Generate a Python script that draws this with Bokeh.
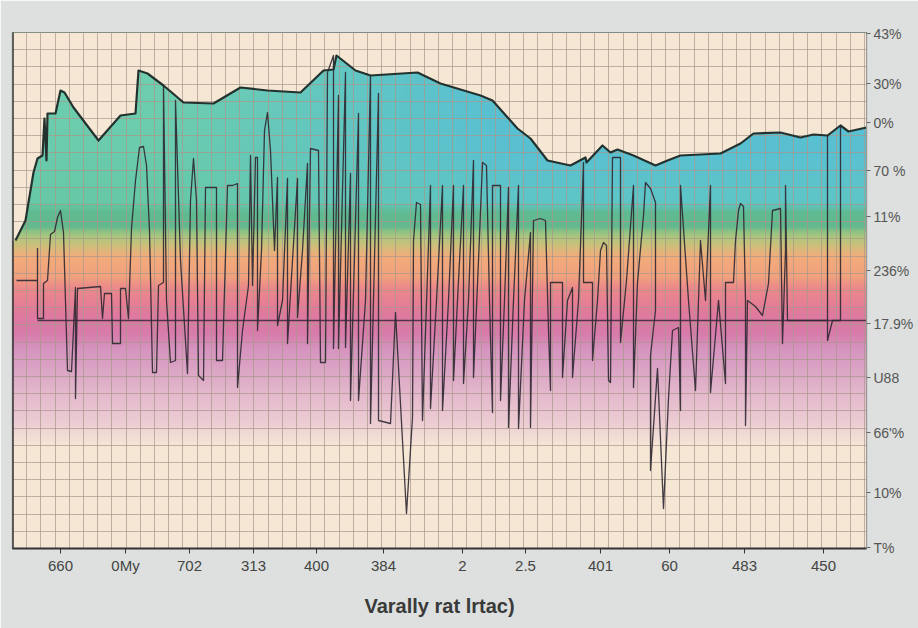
import numpy as np
from bokeh.plotting import figure
from bokeh.models import Range1d, FixedTicker, Span
from bokeh.embed import file_html
from bokeh.resources import INLINE

# ---------------- data ----------------
# upper envelope of the coloured area
env_x = [3, 13, 21, 25, 30, 32, 34, 35, 43, 48, 52, 61, 86, 108, 123, 126, 135, 151, 171, 201,
         228, 255, 288, 311, 321, 324, 343, 358, 405, 428, 468, 480, 505, 518, 535, 558, 573, 574,
         590, 598, 605, 621, 643, 655, 668, 708, 728, 741, 768, 788, 801, 815, 828, 836, 854]
env_y = [308, 328, 376, 390, 393, 430, 388, 435, 435, 458, 456, 441, 408, 433, 435, 478, 475, 463, 446, 445,
         461, 458, 456, 478, 479, 493, 478, 473, 476, 465, 453, 448, 420, 410, 388, 383, 391, 386,
         403, 396, 399, 393, 383, 388, 393, 395, 405, 415, 416, 411, 414, 413, 423, 417, 421]

# jagged signal trace (x, value)
signal = [(4, 268), (25, 268), (25, 300), (25, 230), (31, 230), (31, 265), (35, 268), (38, 314), (42, 317),
          (45, 331), (48, 338), (51, 316), (55, 178), (59, 177), (63, 261), (63, 150), (65, 260), (88, 262),
          (90, 230), (92, 255), (99, 255), (100, 205), (108, 205), (108, 260), (113, 260), (116, 230),
          (119, 320), (123, 368), (127, 401), (131, 402), (134, 383), (137, 318), (140, 176), (144, 176),
          (146, 263), (151, 266), (151, 463), (154, 248), (158, 186), (163, 188), (163, 448), (168, 288),
          (175, 175), (178, 348), (181, 390), (184, 348), (186, 173), (191, 168), (193, 361), (204, 361),
          (204, 188), (210, 188), (215, 363), (220, 363), (225, 365), (225, 161), (230, 218), (236, 263),
          (238, 393), (240, 263), (243, 391), (245, 391), (245, 218), (249, 298), (252, 418), (255, 436),
          (258, 398), (262, 298), (265, 371), (265, 223), (270, 248), (275, 370), (275, 205), (280, 288),
          (285, 370), (285, 231), (290, 298), (295, 385), (295, 205), (298, 400), (306, 398), (308, 186),
          (313, 186), (315, 476), (321, 493), (321, 200), (326, 453), (326, 200), (333, 476), (333, 201),
          (338, 375), (338, 148), (346, 435), (346, 148), (353, 248), (358, 473), (358, 125), (366, 455),
          (366, 128), (378, 125), (383, 236), (394, 35), (400, 131), (401, 308), (404, 346), (408, 344),
          (410, 128), (418, 363), (418, 140), (424, 248), (430, 363), (430, 138), (436, 248), (441, 363),
          (441, 168), (446, 268), (451, 363), (451, 165), (456, 248), (461, 388), (461, 171), (466, 288),
          (470, 386), (474, 383), (477, 248), (480, 136), (480, 363), (488, 363), (488, 148), (492, 248),
          (496, 361), (496, 121), (501, 248), (506, 363), (506, 120), (512, 248), (518, 316), (518, 121),
          (521, 328), (528, 330), (533, 328), (536, 218), (538, 158), (538, 266), (550, 266), (550, 171),
          (555, 248), (560, 261), (560, 171), (566, 248), (571, 386), (571, 266), (580, 266), (580, 188),
          (585, 248), (588, 298), (591, 306), (594, 303), (596, 168), (598, 166), (600, 391), (608, 391),
          (608, 206), (614, 268), (621, 363), (621, 161), (625, 266), (631, 333), (633, 366), (638, 360),
          (643, 346), (643, 238), (638, 193), (638, 78), (645, 180), (651, 40), (656, 150), (660, 218),
          (666, 221), (668, 138), (668, 363), (676, 248), (683, 158), (688, 308), (693, 248), (698, 363),
          (698, 156), (706, 248), (713, 165), (713, 266), (721, 266), (723, 308), (726, 338), (728, 345),
          (731, 342), (733, 248), (733, 123), (735, 248), (743, 242), (750, 233), (756, 265), (760, 338),
          (768, 340), (770, 205), (773, 298), (773, 363), (775, 228), (815, 228), (815, 413), (815, 208),
          (820, 228), (828, 228), (828, 423), (828, 301)]
sig_x = [s[0] for s in signal]
sig_y = [s[1] for s in signal]

# reference level line
ref_x = [25, 854]
ref_y = [228, 228]

x_tick_pos = [48, 113, 177, 241, 304, 371, 450, 513, 588, 657, 732, 811]
x_tick_labels = ["660", "0My", "702", "313", "400", "384", "2", "2.5", "401", "60", "483", "450"]
y_tick_pos = [515, 465, 426, 378, 332, 278, 225, 171, 116, 56, 1]
y_tick_labels = ["43%", "30%", "0%", "70 %", "11%", "236%", "17.9%", "U88", "66'%", "10%", "T%"]

# gradient colour stops (value level, colour): left side / right side
left_stops = [(0, "#f6e7d5"), (100, "#f6e7d5"), (112, "#f2dcd5"), (125, "#ecccd3"), (150, "#e5bbcd"),
              (175, "#dca7c6"), (200, "#d693bf"), (214, "#d77cab"), (228, "#dc79a3"), (242, "#e47c97"),
              (262, "#ec8b89"), (272, "#f0a27d"), (292, "#f2ab7a"), (300, "#d8ba7b"), (310, "#b4c77c"),
              (317, "#90c283"), (322, "#63b98f"), (336, "#5fba91"), (346, "#66c8a6"), (400, "#6acbad"),
              (516, "#70d0b0")]
right_stops = left_stops[:18] + [(346, "#5ec5c6"), (400, "#59c0d2"), (516, "#56bed6")]

BEIGE = "#f6e7d5"
PAGE = "#dde0de"
FONT = "Liberation Sans"

# ---------------- figure ----------------
p = figure(width=918, height=628, x_range=Range1d(0, 854), y_range=Range1d(0, 516),
           output_backend="svg", toolbar_location=None, y_axis_location="right",
           min_border_left=12, min_border_right=52, min_border_top=32, min_border_bottom=80)
p.background_fill_color = BEIGE
p.border_fill_color = PAGE
p.outline_line_color = "#555555"
p.outline_line_width = 1.2


def hex2rgb(h):
    return [int(h[i:i + 2], 16) for i in (1, 3, 5)]


def profile(stops, ys):
    sy = np.array([s[0] for s in stops], float)
    cols = np.array([hex2rgb(s[1]) for s in stops], float)
    return np.stack([np.interp(ys, sy, cols[:, k]) for k in range(3)], axis=1)


W, H = 427, 258
gx = np.linspace(0, 854, W)
gy = np.linspace(0, 516, H)
L = profile(left_stops, gy)
R = profile(right_stops, gy)
t = np.clip((gx - 150) / 350.0, 0, 1)
rgb = L[:, None, :] * (1 - t[None, :, None]) + R[:, None, :] * t[None, :, None]
img = np.empty((H, W), dtype=np.uint32)
view = img.view(dtype=np.uint8).reshape((H, W, 4))
view[..., 0:3] = np.clip(rgb.round(), 0, 255).astype(np.uint8)
view[..., 3] = 255
p.image_rgba(image=[img], x=0, y=0, dw=854, dh=516, level="image")

# mask above the envelope
p.varea(x=[0] + env_x, y1=[env_y[0]] + env_y, y2=516, fill_color=BEIGE, level="image")

# grid on top of fill
p.xgrid.ticker = FixedTicker(ticks=[round(14.2 * k, 1) for k in range(1, 61)])
p.ygrid.ticker = FixedTicker(ticks=[round(17.2 * k, 1) for k in range(1, 30)])
p.xgrid.grid_line_color = "#a8978a"
p.ygrid.grid_line_color = "#a8978a"
p.xgrid.grid_line_alpha = 0.7
p.ygrid.grid_line_alpha = 0.7
p.xgrid.grid_line_width = 1
p.ygrid.grid_line_width = 1

# lines
p.line(ref_x, ref_y, line_color="#3a2838", line_width=1.5, line_alpha=0.85)
p.line(sig_x, sig_y, line_color="#2e2832", line_width=1.3, line_alpha=0.9, line_join="round")
p.line(env_x, env_y, line_color="#23322e", line_width=2.2, line_join="round")

# dark left frame edge
p.add_layout(Span(location=0, dimension="height", line_color="#333333", line_width=2.5))

# bottom axis
xa = p.xaxis[0]
xa.ticker = FixedTicker(ticks=x_tick_pos)
xa.major_label_overrides = {k: v for k, v in zip(x_tick_pos, x_tick_labels)}
xa.major_label_text_font = FONT
xa.major_label_text_font_size = "15px"
xa.major_label_text_color = "#444444"
xa.major_label_standoff = 3
xa.major_tick_in = 0
xa.major_tick_out = 5
xa.minor_tick_out = 0
xa.minor_tick_in = 0
xa.axis_line_color = "#333333"
xa.axis_line_width = 2
xa.major_tick_line_color = "#333333"
xa.axis_label = "Varally rat lrtac)"
xa.axis_label_text_font = FONT
xa.axis_label_text_font_size = "20px"
xa.axis_label_text_font_style = "bold"
xa.axis_label_text_color = "#3a3a3a"
xa.axis_label_standoff = 18

# right axis
ya = p.yaxis[0]
ya.ticker = FixedTicker(ticks=y_tick_pos)
ya.major_label_overrides = {k: v for k, v in zip(y_tick_pos, y_tick_labels)}
ya.major_label_text_font = FONT
ya.major_label_text_font_size = "14px"
ya.major_label_text_color = "#555555"
ya.major_label_standoff = 3
ya.major_tick_in = 0
ya.major_tick_out = 4
ya.minor_tick_out = 0
ya.minor_tick_in = 0
ya.axis_line_color = "#999999"
ya.axis_line_width = 1
ya.major_tick_line_color = "#666666"

open("out.html", "w").write(file_html(p, INLINE))
